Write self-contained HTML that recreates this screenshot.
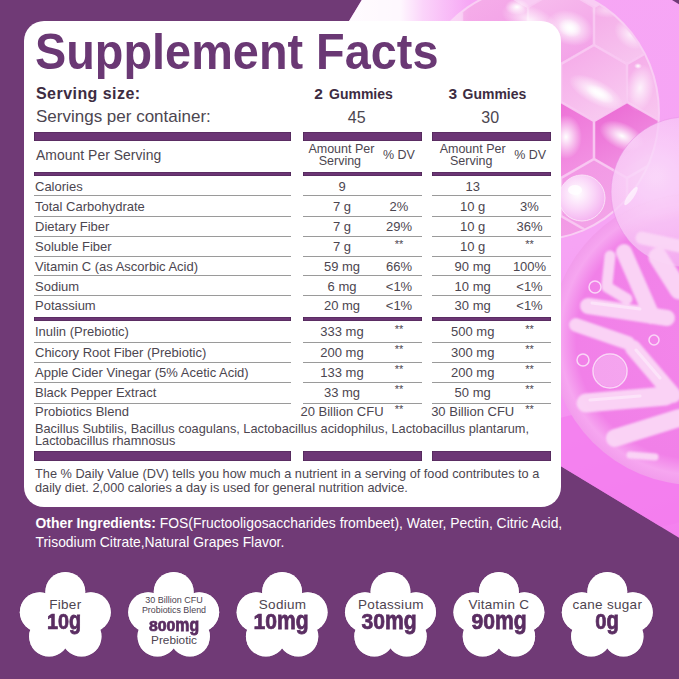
<!DOCTYPE html>
<html><head><meta charset="utf-8"><style>
html,body{margin:0;padding:0;}
body{width:679px;height:679px;position:relative;overflow:hidden;background:#703a76;font-family:"Liberation Sans",sans-serif;}
.t{position:absolute;white-space:nowrap;line-height:1;}
.r{position:absolute;}
.bg{position:absolute;left:0;top:0;}
.lc{display:inline-block;transform:scaleY(1.15);transform-origin:50% 80%;}
</style></head><body>
<svg class="bg" width="679" height="679" viewBox="0 0 679 679">
<defs>
 <clipPath id="pk"><polygon points="444.9,-137.4 208.7,253.1 1064.3,770.8 1300.5,380.3"/></clipPath>
 <clipPath id="hexc"><ellipse cx="536" cy="113" rx="122" ry="126"/></clipPath>
 <linearGradient id="hg0" x1="0" y1="0" x2="0.5" y2="1"><stop offset="0" stop-color="#f6b0ea"/><stop offset="1" stop-color="#f29ee6"/></linearGradient><linearGradient id="hg1" x1="0" y1="0" x2="0.5" y2="1"><stop offset="0" stop-color="#f8c0ee"/><stop offset="1" stop-color="#f3a4e8"/></linearGradient><linearGradient id="hg2" x1="0" y1="0" x2="0.5" y2="1"><stop offset="0" stop-color="#f4a6e6"/><stop offset="1" stop-color="#f7c4ef"/></linearGradient><linearGradient id="hg3" x1="0" y1="0" x2="0.5" y2="1"><stop offset="0" stop-color="#f6b0ea"/><stop offset="1" stop-color="#f29ee6"/></linearGradient><linearGradient id="hg4" x1="0" y1="0" x2="0.5" y2="1"><stop offset="0" stop-color="#f5a8e8"/><stop offset="1" stop-color="#f8c8f0"/></linearGradient><linearGradient id="hg5" x1="0" y1="0" x2="0.5" y2="1"><stop offset="0" stop-color="#f5a8e8"/><stop offset="1" stop-color="#f8c8f0"/></linearGradient><linearGradient id="hg6" x1="0" y1="0" x2="0.5" y2="1"><stop offset="0" stop-color="#ec6ad4"/><stop offset="1" stop-color="#f290e2"/></linearGradient><linearGradient id="hg7" x1="0" y1="0" x2="0.5" y2="1"><stop offset="0" stop-color="#ea66d2"/><stop offset="1" stop-color="#f296e4"/></linearGradient><linearGradient id="hg8" x1="0" y1="0" x2="0.5" y2="1"><stop offset="0" stop-color="#ea66d2"/><stop offset="1" stop-color="#f296e4"/></linearGradient><linearGradient id="hg9" x1="0" y1="0" x2="0.5" y2="1"><stop offset="0" stop-color="#f296e4"/><stop offset="1" stop-color="#f3a4e8"/></linearGradient><linearGradient id="hg10" x1="0" y1="0" x2="0.5" y2="1"><stop offset="0" stop-color="#f296e4"/><stop offset="1" stop-color="#f3a4e8"/></linearGradient><linearGradient id="hg11" x1="0" y1="0" x2="0.5" y2="1"><stop offset="0" stop-color="#f296e4"/><stop offset="1" stop-color="#f3a4e8"/></linearGradient><linearGradient id="hg12" x1="0" y1="0" x2="0.5" y2="1"><stop offset="0" stop-color="#f296e4"/><stop offset="1" stop-color="#f3a4e8"/></linearGradient><linearGradient id="hg13" x1="0" y1="0" x2="0.5" y2="1"><stop offset="0" stop-color="#f296e4"/><stop offset="1" stop-color="#f3a4e8"/></linearGradient>
 <radialGradient id="wh" cx="50%" cy="50%" r="50%"><stop offset="0" stop-color="#fff" stop-opacity="1"/><stop offset="1" stop-color="#fff" stop-opacity="0"/></radialGradient>
 <radialGradient id="bub" cx="30%" cy="40%" r="70%"><stop offset="0" stop-color="#fbe0fb"/><stop offset="0.6" stop-color="#f7c4f5"/><stop offset="1" stop-color="#f3a8f0"/></radialGradient>
 <radialGradient id="sbub" cx="40%" cy="40%" r="65%"><stop offset="0" stop-color="#fff"/><stop offset="0.55" stop-color="#fad6f8"/><stop offset="1" stop-color="#f4b0f0"/></radialGradient>
 <radialGradient id="dish" cx="50%" cy="50%" r="50%"><stop offset="0" stop-color="#f386ea"/><stop offset="0.82" stop-color="#f180e8"/><stop offset="0.93" stop-color="#f6a6f0"/><stop offset="1" stop-color="#f29cec"/></radialGradient>
 <filter id="soft" x="-20%" y="-20%" width="140%" height="140%"><feGaussianBlur stdDeviation="0.9"/></filter>
 <linearGradient id="wstrip" x1="0" y1="0" x2="1" y2="0"><stop offset="0" stop-color="#fff" stop-opacity="1"/><stop offset="0.5" stop-color="#fff" stop-opacity="0.92"/><stop offset="0.62" stop-color="#fff" stop-opacity="0.5"/><stop offset="0.85" stop-color="#fff" stop-opacity="0"/></linearGradient>
 <linearGradient id="base" x1="0" y1="0" x2="0.3" y2="1"><stop offset="0" stop-color="#f7a9f6"/><stop offset="0.6" stop-color="#f6a4f4"/><stop offset="1" stop-color="#f47aee"/></linearGradient>
</defs>
<rect width="679" height="679" fill="#703a76"/>
<g clip-path="url(#pk)">
 <rect x="200" y="-200" width="700" height="900" fill="url(#base)"/>
 <ellipse cx="620" cy="470" rx="120" ry="60" fill="#f47cee" opacity="0.7"/>
 <ellipse cx="536" cy="113" rx="124" ry="128" fill="#f9cdf4"/>
 <g clip-path="url(#hexc)"><polygon points="495.0,-11.5 527.5,7.3 527.5,44.8 495.0,63.5 462.5,44.8 462.5,7.2" fill="url(#hg0)" stroke="#f8c8f2" stroke-width="1.6" stroke-opacity="0.9"/><polygon points="561.0,-11.5 593.5,7.3 593.5,44.8 561.0,63.5 528.5,44.8 528.5,7.2" fill="url(#hg1)" stroke="#f8c8f2" stroke-width="1.6" stroke-opacity="0.9"/><polygon points="627.0,-11.5 659.5,7.3 659.5,44.8 627.0,63.5 594.5,44.8 594.5,7.2" fill="url(#hg2)" stroke="#f8c8f2" stroke-width="1.6" stroke-opacity="0.9"/><polygon points="528.0,45.5 560.5,64.2 560.5,101.8 528.0,120.5 495.5,101.8 495.5,64.2" fill="url(#hg3)" stroke="#f8c8f2" stroke-width="1.6" stroke-opacity="0.9"/><polygon points="594.0,45.5 626.5,64.2 626.5,101.8 594.0,120.5 561.5,101.8 561.5,64.2" fill="url(#hg4)" stroke="#f8c8f2" stroke-width="1.6" stroke-opacity="0.9"/><polygon points="660.0,45.5 692.5,64.2 692.5,101.8 660.0,120.5 627.5,101.8 627.5,64.2" fill="url(#hg5)" stroke="#f8c8f2" stroke-width="1.6" stroke-opacity="0.9"/><polygon points="561.0,102.5 593.5,121.2 593.5,158.8 561.0,177.5 528.5,158.8 528.5,121.2" fill="url(#hg6)" stroke="#f8c8f2" stroke-width="1.6" stroke-opacity="0.9"/><polygon points="627.0,102.5 659.5,121.2 659.5,158.8 627.0,177.5 594.5,158.8 594.5,121.2" fill="url(#hg7)" stroke="#f8c8f2" stroke-width="1.6" stroke-opacity="0.9"/><polygon points="693.0,102.5 725.5,121.2 725.5,158.8 693.0,177.5 660.5,158.8 660.5,121.2" fill="url(#hg8)" stroke="#f8c8f2" stroke-width="1.6" stroke-opacity="0.9"/><polygon points="528.0,159.5 560.5,178.2 560.5,215.8 528.0,234.5 495.5,215.8 495.5,178.2" fill="url(#hg9)" stroke="#f8c8f2" stroke-width="1.6" stroke-opacity="0.9"/><polygon points="594.0,159.5 626.5,178.2 626.5,215.8 594.0,234.5 561.5,215.8 561.5,178.2" fill="url(#hg10)" stroke="#f8c8f2" stroke-width="1.6" stroke-opacity="0.9"/><polygon points="660.0,159.5 692.5,178.2 692.5,215.8 660.0,234.5 627.5,215.8 627.5,178.2" fill="url(#hg11)" stroke="#f8c8f2" stroke-width="1.6" stroke-opacity="0.9"/><polygon points="561.0,216.5 593.5,235.2 593.5,272.8 561.0,291.5 528.5,272.8 528.5,235.2" fill="url(#hg12)" stroke="#f8c8f2" stroke-width="1.6" stroke-opacity="0.9"/><polygon points="627.0,216.5 659.5,235.2 659.5,272.8 627.0,291.5 594.5,272.8 594.5,235.2" fill="url(#hg13)" stroke="#f8c8f2" stroke-width="1.6" stroke-opacity="0.9"/><ellipse cx="570" cy="28" rx="24" ry="17" fill="url(#wh)" opacity="1.0" transform="rotate(20 570 28)"/><ellipse cx="570" cy="28" rx="12" ry="9" fill="url(#wh)" opacity="1.0" transform="rotate(20 570 28)"/><ellipse cx="596" cy="92" rx="30" ry="12" fill="url(#wh)" opacity="1.0" transform="rotate(28 596 92)"/><ellipse cx="600" cy="94" rx="16" ry="7" fill="url(#wh)" opacity="1.0" transform="rotate(28 600 94)"/><ellipse cx="640" cy="88" rx="14" ry="24" fill="url(#wh)" opacity="0.8" transform="rotate(10 640 88)"/><ellipse cx="566" cy="137" rx="16" ry="22" fill="url(#wh)" opacity="1.0" transform="rotate(0 566 137)"/><ellipse cx="622" cy="136" rx="24" ry="13" fill="url(#wh)" opacity="1.0" transform="rotate(25 622 136)"/><ellipse cx="630" cy="35" rx="18" ry="12" fill="url(#wh)" opacity="0.7" transform="rotate(40 630 35)"/><ellipse cx="530" cy="20" rx="30" ry="14" fill="url(#wh)" opacity="0.8" transform="rotate(20 530 20)"/><ellipse cx="608" cy="10" rx="18" ry="8" fill="url(#wh)" opacity="0.5" transform="rotate(0 608 10)"/><ellipse cx="638" cy="66" rx="4" ry="3" fill="url(#wh)" opacity="1.0" transform="rotate(0 638 66)"/>
 </g>
 <rect x="300" y="-10" width="200" height="40" fill="url(#wstrip)"/>
 <ellipse cx="517" cy="7" rx="12" ry="8" fill="url(#wh)"/>
 <circle cx="696" cy="339" r="146" fill="url(#dish)"/>
 <circle cx="686" cy="192" r="75" fill="url(#bub)" opacity="0.85" stroke="#e890e4" stroke-width="1" stroke-opacity="0.6"/>
 <ellipse cx="631" cy="196" rx="3" ry="11" fill="#fff" opacity="0.6" transform="rotate(35 631 196)"/>
 <g stroke="#fad6f6" stroke-linecap="round" fill="none" opacity="0.95" filter="url(#soft)">
  <line x1="588" y1="306" x2="667" y2="318" stroke-width="16.0"/>
  <line x1="576" y1="325" x2="628" y2="343" stroke-width="14.0"/>
  <line x1="610" y1="256" x2="607" y2="285" stroke-width="11.0"/>
  <line x1="607" y1="287" x2="627" y2="299" stroke-width="11.0"/>
  <line x1="624" y1="252" x2="652" y2="316" stroke-width="16.0"/>
  <line x1="633" y1="348" x2="673" y2="395" stroke-width="16.0"/>
  <line x1="586" y1="403" x2="666" y2="396" stroke-width="19.0"/>
  <line x1="615" y1="438" x2="679" y2="418" stroke-width="18.0"/>
  <line x1="642" y1="238" x2="679" y2="246" stroke-width="13.0"/>
  <line x1="658" y1="257" x2="679" y2="290" stroke-width="19.0"/>
  <line x1="630" y1="455" x2="655" y2="457" stroke-width="7.0"/>
 </g>
 <g stroke="#fde8fb" stroke-linecap="round" fill="none" opacity="0.8">
  <line x1="592" y1="303" x2="640" y2="309" stroke-width="3"/>
  <line x1="590" y1="400" x2="640" y2="396" stroke-width="3"/>
  <line x1="636" y1="350" x2="660" y2="378" stroke-width="3"/>
 </g>
 <g fill="none" stroke="#fbe0f9" stroke-width="1.5" opacity="0.9">
  <circle cx="610" cy="371" r="17"/><circle cx="583" cy="360" r="6"/><circle cx="654" cy="340" r="5"/><circle cx="595" cy="287" r="6"/>
 </g>
 <circle cx="610" cy="371" r="16" fill="#fbd8f8" opacity="0.4"/>
 <circle cx="582" cy="198" r="23" fill="url(#sbub)" stroke="#fbe2f8" stroke-width="1"/>
 <ellipse cx="575" cy="190" rx="7" ry="5" fill="#fff" opacity="0.8"/>
</g>
</svg>
<div class="r" style="left:24px;top:21px;width:537px;height:485.5px;background:#fff;border-radius:20px;"></div>
<div class="t" style="left:35px;top:27.17px;font-size:50px;font-weight:bold;color:#6a3874;transform:scaleX(0.937);transform-origin:left top;">Supplement Facts</div>
<div class="t" style="left:36px;top:86.06px;font-size:16px;font-weight:bold;color:#3d2c42;letter-spacing:0.45px;">Serving size:</div>
<div class="t" style="left:314.3px;top:86.28px;font-size:15.5px;font-weight:bold;color:#3d2c42;">2</div>
<div class="t" style="left:329px;top:86.75px;font-size:14px;font-weight:bold;color:#3d2c42;">Gummies</div>
<div class="t" style="left:448.4px;top:86.28px;font-size:15.5px;font-weight:bold;color:#3d2c42;">3</div>
<div class="t" style="left:462.5px;top:86.75px;font-size:14px;font-weight:bold;color:#3d2c42;">Gummies</div>
<div class="t" style="left:36px;top:107.61px;font-size:17px;color:#4c4650;">Servings per container:</div>
<div class="t" style="left:206.7px;width:300px;text-align:center;top:110.26px;font-size:16px;color:#4c4650;">45</div>
<div class="t" style="left:340.2px;width:300px;text-align:center;top:110.26px;font-size:16px;color:#4c4650;">30</div>
<div class="r" style="left:34px;top:131.5px;width:256.5px;height:9.5px;background:#6c3675;box-shadow:inset 0 0 0 0.6px #4a2552;"></div>
<div class="r" style="left:302.8px;top:131.5px;width:119.0px;height:9.5px;background:#6c3675;box-shadow:inset 0 0 0 0.6px #4a2552;"></div>
<div class="r" style="left:432.4px;top:131.5px;width:118.60000000000002px;height:9.5px;background:#6c3675;box-shadow:inset 0 0 0 0.6px #4a2552;"></div>
<div class="t" style="left:36px;top:148.53px;font-size:13.9px;color:#4c4650;letter-spacing:0.05px;">Amount Per Serving</div>
<div class="t" style="left:191.39999999999998px;width:300px;text-align:center;top:143.12px;font-size:12.5px;color:#4c4650;">Amount Per</div>
<div class="t" style="left:189.89999999999998px;width:300px;text-align:center;top:154.92px;font-size:12.5px;color:#4c4650;">Serving</div>
<div class="t" style="left:248.89999999999998px;width:300px;text-align:center;top:149.02px;font-size:12.5px;color:#4c4650;">% DV</div>
<div class="t" style="left:322.7px;width:300px;text-align:center;top:143.12px;font-size:12.5px;color:#4c4650;">Amount Per</div>
<div class="t" style="left:321.2px;width:300px;text-align:center;top:154.92px;font-size:12.5px;color:#4c4650;">Serving</div>
<div class="t" style="left:380.20000000000005px;width:300px;text-align:center;top:149.02px;font-size:12.5px;color:#4c4650;">% DV</div>
<div class="r" style="left:34px;top:171.5px;width:256.5px;height:4.300000000000011px;background:#6c3675;box-shadow:inset 0 0 0 0.6px #4a2552;"></div>
<div class="r" style="left:302.8px;top:171.5px;width:119.0px;height:4.300000000000011px;background:#6c3675;box-shadow:inset 0 0 0 0.6px #4a2552;"></div>
<div class="r" style="left:432.4px;top:171.5px;width:118.60000000000002px;height:4.300000000000011px;background:#6c3675;box-shadow:inset 0 0 0 0.6px #4a2552;"></div>
<div class="t" style="left:35px;top:179.60px;font-size:13px;color:#4c4650;">Calories</div>
<div class="t" style="left:192px;width:300px;text-align:center;top:179.60px;font-size:13px;color:#4c4650;">9</div>
<div class="t" style="left:322.7px;width:300px;text-align:center;top:179.60px;font-size:13px;color:#4c4650;">13</div>
<div class="t" style="left:249px;width:300px;text-align:center;top:179.60px;font-size:13px;color:#4c4650;"></div>
<div class="t" style="left:379.5px;width:300px;text-align:center;top:179.60px;font-size:13px;color:#4c4650;"></div>
<div class="t" style="left:35px;top:200.00px;font-size:13px;color:#4c4650;">Total Carbohydrate</div>
<div class="t" style="left:192px;width:300px;text-align:center;top:200.00px;font-size:13px;color:#4c4650;">7 g</div>
<div class="t" style="left:322.7px;width:300px;text-align:center;top:200.00px;font-size:13px;color:#4c4650;">10 g</div>
<div class="t" style="left:249px;width:300px;text-align:center;top:200.00px;font-size:13px;color:#4c4650;">2%</div>
<div class="t" style="left:379.5px;width:300px;text-align:center;top:200.00px;font-size:13px;color:#4c4650;">3%</div>
<div class="t" style="left:35px;top:220.00px;font-size:13px;color:#4c4650;">Dietary Fiber</div>
<div class="t" style="left:192px;width:300px;text-align:center;top:220.00px;font-size:13px;color:#4c4650;">7 g</div>
<div class="t" style="left:322.7px;width:300px;text-align:center;top:220.00px;font-size:13px;color:#4c4650;">10 g</div>
<div class="t" style="left:249px;width:300px;text-align:center;top:220.00px;font-size:13px;color:#4c4650;">29%</div>
<div class="t" style="left:379.5px;width:300px;text-align:center;top:220.00px;font-size:13px;color:#4c4650;">36%</div>
<div class="t" style="left:35px;top:240.00px;font-size:13px;color:#4c4650;">Soluble Fiber</div>
<div class="t" style="left:192px;width:300px;text-align:center;top:240.00px;font-size:13px;color:#4c4650;">7 g</div>
<div class="t" style="left:322.7px;width:300px;text-align:center;top:240.00px;font-size:13px;color:#4c4650;">10 g</div>
<div class="t" style="left:249px;width:300px;text-align:center;top:238.69px;font-size:11px;color:#4c4650;">**</div>
<div class="t" style="left:379.5px;width:300px;text-align:center;top:238.69px;font-size:11px;color:#4c4650;">**</div>
<div class="t" style="left:35px;top:259.50px;font-size:13px;color:#4c4650;">Vitamin C (as Ascorbic Acid)</div>
<div class="t" style="left:192px;width:300px;text-align:center;top:259.50px;font-size:13px;color:#4c4650;">59 mg</div>
<div class="t" style="left:322.7px;width:300px;text-align:center;top:259.50px;font-size:13px;color:#4c4650;">90 mg</div>
<div class="t" style="left:249px;width:300px;text-align:center;top:259.50px;font-size:13px;color:#4c4650;">66%</div>
<div class="t" style="left:379.5px;width:300px;text-align:center;top:259.50px;font-size:13px;color:#4c4650;">100%</div>
<div class="t" style="left:35px;top:279.50px;font-size:13px;color:#4c4650;">Sodium</div>
<div class="t" style="left:192px;width:300px;text-align:center;top:279.50px;font-size:13px;color:#4c4650;">6 mg</div>
<div class="t" style="left:322.7px;width:300px;text-align:center;top:279.50px;font-size:13px;color:#4c4650;">10 mg</div>
<div class="t" style="left:249px;width:300px;text-align:center;top:279.50px;font-size:13px;color:#4c4650;">&lt;1%</div>
<div class="t" style="left:379.5px;width:300px;text-align:center;top:279.50px;font-size:13px;color:#4c4650;">&lt;1%</div>
<div class="t" style="left:35px;top:299.30px;font-size:13px;color:#4c4650;">Potassium</div>
<div class="t" style="left:192px;width:300px;text-align:center;top:299.30px;font-size:13px;color:#4c4650;">20 mg</div>
<div class="t" style="left:322.7px;width:300px;text-align:center;top:299.30px;font-size:13px;color:#4c4650;">30 mg</div>
<div class="t" style="left:249px;width:300px;text-align:center;top:299.30px;font-size:13px;color:#4c4650;">&lt;1%</div>
<div class="t" style="left:379.5px;width:300px;text-align:center;top:299.30px;font-size:13px;color:#4c4650;">&lt;1%</div>
<div class="r" style="left:34px;top:195.3px;width:256.5px;height:1.0px;background:#9a9a9a;"></div>
<div class="r" style="left:302.8px;top:195.3px;width:119.0px;height:1.0px;background:#9a9a9a;"></div>
<div class="r" style="left:432.4px;top:195.3px;width:118.60000000000002px;height:1.0px;background:#9a9a9a;"></div>
<div class="r" style="left:34px;top:216px;width:256.5px;height:1px;background:#9a9a9a;"></div>
<div class="r" style="left:302.8px;top:216px;width:119.0px;height:1px;background:#9a9a9a;"></div>
<div class="r" style="left:432.4px;top:216px;width:118.60000000000002px;height:1px;background:#9a9a9a;"></div>
<div class="r" style="left:34px;top:236.3px;width:256.5px;height:1.0px;background:#9a9a9a;"></div>
<div class="r" style="left:302.8px;top:236.3px;width:119.0px;height:1.0px;background:#9a9a9a;"></div>
<div class="r" style="left:432.4px;top:236.3px;width:118.60000000000002px;height:1.0px;background:#9a9a9a;"></div>
<div class="r" style="left:34px;top:256px;width:256.5px;height:1px;background:#9a9a9a;"></div>
<div class="r" style="left:302.8px;top:256px;width:119.0px;height:1px;background:#9a9a9a;"></div>
<div class="r" style="left:432.4px;top:256px;width:118.60000000000002px;height:1px;background:#9a9a9a;"></div>
<div class="r" style="left:34px;top:275.3px;width:256.5px;height:1.0px;background:#9a9a9a;"></div>
<div class="r" style="left:302.8px;top:275.3px;width:119.0px;height:1.0px;background:#9a9a9a;"></div>
<div class="r" style="left:432.4px;top:275.3px;width:118.60000000000002px;height:1.0px;background:#9a9a9a;"></div>
<div class="r" style="left:34px;top:295.2px;width:256.5px;height:1.0px;background:#9a9a9a;"></div>
<div class="r" style="left:302.8px;top:295.2px;width:119.0px;height:1.0px;background:#9a9a9a;"></div>
<div class="r" style="left:432.4px;top:295.2px;width:118.60000000000002px;height:1.0px;background:#9a9a9a;"></div>
<div class="r" style="left:34px;top:317px;width:256.5px;height:4px;background:#6c3675;box-shadow:inset 0 0 0 0.6px #4a2552;"></div>
<div class="r" style="left:302.8px;top:317px;width:119.0px;height:4px;background:#6c3675;box-shadow:inset 0 0 0 0.6px #4a2552;"></div>
<div class="r" style="left:432.4px;top:317px;width:118.60000000000002px;height:4px;background:#6c3675;box-shadow:inset 0 0 0 0.6px #4a2552;"></div>
<div class="t" style="left:35px;top:325.00px;font-size:13px;color:#4c4650;">Inulin (Prebiotic)</div>
<div class="t" style="left:192px;width:300px;text-align:center;top:325.00px;font-size:13px;color:#4c4650;">333 mg</div>
<div class="t" style="left:322.7px;width:300px;text-align:center;top:325.00px;font-size:13px;color:#4c4650;">500 mg</div>
<div class="t" style="left:249px;width:300px;text-align:center;top:323.69px;font-size:11px;color:#4c4650;">**</div>
<div class="t" style="left:379.5px;width:300px;text-align:center;top:323.69px;font-size:11px;color:#4c4650;">**</div>
<div class="t" style="left:35px;top:345.50px;font-size:13px;color:#4c4650;">Chicory Root Fiber (Prebiotic)</div>
<div class="t" style="left:192px;width:300px;text-align:center;top:345.50px;font-size:13px;color:#4c4650;">200 mg</div>
<div class="t" style="left:322.7px;width:300px;text-align:center;top:345.50px;font-size:13px;color:#4c4650;">300 mg</div>
<div class="t" style="left:249px;width:300px;text-align:center;top:344.19px;font-size:11px;color:#4c4650;">**</div>
<div class="t" style="left:379.5px;width:300px;text-align:center;top:344.19px;font-size:11px;color:#4c4650;">**</div>
<div class="t" style="left:35px;top:365.50px;font-size:13px;color:#4c4650;">Apple Cider Vinegar (5% Acetic Acid)</div>
<div class="t" style="left:192px;width:300px;text-align:center;top:365.50px;font-size:13px;color:#4c4650;">133 mg</div>
<div class="t" style="left:322.7px;width:300px;text-align:center;top:365.50px;font-size:13px;color:#4c4650;">200 mg</div>
<div class="t" style="left:249px;width:300px;text-align:center;top:364.19px;font-size:11px;color:#4c4650;">**</div>
<div class="t" style="left:379.5px;width:300px;text-align:center;top:364.19px;font-size:11px;color:#4c4650;">**</div>
<div class="t" style="left:35px;top:385.80px;font-size:13px;color:#4c4650;">Black Pepper Extract</div>
<div class="t" style="left:192px;width:300px;text-align:center;top:385.80px;font-size:13px;color:#4c4650;">33 mg</div>
<div class="t" style="left:322.7px;width:300px;text-align:center;top:385.80px;font-size:13px;color:#4c4650;">50 mg</div>
<div class="t" style="left:249px;width:300px;text-align:center;top:384.49px;font-size:11px;color:#4c4650;">**</div>
<div class="t" style="left:379.5px;width:300px;text-align:center;top:384.49px;font-size:11px;color:#4c4650;">**</div>
<div class="t" style="left:35px;top:405.00px;font-size:13px;color:#4c4650;">Probiotics Blend</div>
<div class="t" style="left:192px;width:300px;text-align:center;top:405.00px;font-size:13px;color:#4c4650;">20 Billion CFU</div>
<div class="t" style="left:322.7px;width:300px;text-align:center;top:405.00px;font-size:13px;color:#4c4650;">30 Billion CFU</div>
<div class="t" style="left:249px;width:300px;text-align:center;top:403.69px;font-size:11px;color:#4c4650;">**</div>
<div class="t" style="left:379.5px;width:300px;text-align:center;top:403.69px;font-size:11px;color:#4c4650;">**</div>
<div class="r" style="left:34px;top:341.5px;width:256.5px;height:1.0px;background:#9a9a9a;"></div>
<div class="r" style="left:302.8px;top:341.5px;width:119.0px;height:1.0px;background:#9a9a9a;"></div>
<div class="r" style="left:432.4px;top:341.5px;width:118.60000000000002px;height:1.0px;background:#9a9a9a;"></div>
<div class="r" style="left:34px;top:362px;width:256.5px;height:1px;background:#9a9a9a;"></div>
<div class="r" style="left:302.8px;top:362px;width:119.0px;height:1px;background:#9a9a9a;"></div>
<div class="r" style="left:432.4px;top:362px;width:118.60000000000002px;height:1px;background:#9a9a9a;"></div>
<div class="r" style="left:34px;top:382px;width:256.5px;height:1px;background:#9a9a9a;"></div>
<div class="r" style="left:302.8px;top:382px;width:119.0px;height:1px;background:#9a9a9a;"></div>
<div class="r" style="left:432.4px;top:382px;width:118.60000000000002px;height:1px;background:#9a9a9a;"></div>
<div class="r" style="left:34px;top:402.5px;width:256.5px;height:1.0px;background:#9a9a9a;"></div>
<div class="r" style="left:302.8px;top:402.5px;width:119.0px;height:1.0px;background:#9a9a9a;"></div>
<div class="r" style="left:432.4px;top:402.5px;width:118.60000000000002px;height:1.0px;background:#9a9a9a;"></div>
<div class="t" style="left:35px;top:422.51px;font-size:12.75px;color:#4c4650;">Bacillus Subtilis, Bacillus coagulans, Lactobacillus acidophilus, Lactobacillus plantarum,</div>
<div class="t" style="left:35px;top:435.41px;font-size:12.75px;color:#4c4650;">Lactobacillus rhamnosus</div>
<div class="r" style="left:34px;top:451px;width:256.5px;height:9.5px;background:#6c3675;box-shadow:inset 0 0 0 0.6px #4a2552;"></div>
<div class="r" style="left:302.8px;top:451px;width:119.0px;height:9.5px;background:#6c3675;box-shadow:inset 0 0 0 0.6px #4a2552;"></div>
<div class="r" style="left:432.4px;top:451px;width:118.60000000000002px;height:9.5px;background:#6c3675;box-shadow:inset 0 0 0 0.6px #4a2552;"></div>
<div class="t" style="left:35px;top:467.81px;font-size:12.75px;color:#4c4650;">The % Daily Value (DV) tells you how much a nutrient in a serving of food contributes to a</div>
<div class="t" style="left:35px;top:481.61px;font-size:12.75px;color:#4c4650;">daily diet. 2,000 calories a day is used for general nutrition advice.</div>
<div class="t" style="left:35.5px;top:517.23px;font-size:13.9px;color:#fff;"><b>Other Ingredients:</b> FOS(Fructooligosaccharides frombeet), Water, Pectin, Citric Acid,</div>
<div class="t" style="left:35.5px;top:535.53px;font-size:13.9px;color:#fff;">Trisodium Citrate,Natural Grapes Flavor.</div>
<svg class="bg" width="679" height="679"><g fill="#fff" stroke="#5a2a60" stroke-width="0.6" stroke-opacity="0.5"><circle cx="65.30" cy="592" r="20"/><circle cx="39.80" cy="612.2" r="20"/><circle cx="90.80" cy="612.2" r="20"/><circle cx="49.10" cy="636.5" r="20"/><circle cx="81.50" cy="636.5" r="20"/><circle cx="65.3" cy="617" r="24"/><circle cx="173.70" cy="592" r="20"/><circle cx="148.20" cy="612.2" r="20"/><circle cx="199.20" cy="612.2" r="20"/><circle cx="157.50" cy="636.5" r="20"/><circle cx="189.90" cy="636.5" r="20"/><circle cx="173.7" cy="617" r="24"/><circle cx="282.10" cy="592" r="20"/><circle cx="256.60" cy="612.2" r="20"/><circle cx="307.60" cy="612.2" r="20"/><circle cx="265.90" cy="636.5" r="20"/><circle cx="298.30" cy="636.5" r="20"/><circle cx="282.1" cy="617" r="24"/><circle cx="390.50" cy="592" r="20"/><circle cx="365.00" cy="612.2" r="20"/><circle cx="416.00" cy="612.2" r="20"/><circle cx="374.30" cy="636.5" r="20"/><circle cx="406.70" cy="636.5" r="20"/><circle cx="390.5" cy="617" r="24"/><circle cx="498.90" cy="592" r="20"/><circle cx="473.40" cy="612.2" r="20"/><circle cx="524.40" cy="612.2" r="20"/><circle cx="482.70" cy="636.5" r="20"/><circle cx="515.10" cy="636.5" r="20"/><circle cx="498.9" cy="617" r="24"/><circle cx="607.30" cy="592" r="20"/><circle cx="581.80" cy="612.2" r="20"/><circle cx="632.80" cy="612.2" r="20"/><circle cx="591.10" cy="636.5" r="20"/><circle cx="623.50" cy="636.5" r="20"/><circle cx="607.3" cy="617" r="24"/></g><g fill="#fff"><circle cx="65.30" cy="592" r="20"/><circle cx="39.80" cy="612.2" r="20"/><circle cx="90.80" cy="612.2" r="20"/><circle cx="49.10" cy="636.5" r="20"/><circle cx="81.50" cy="636.5" r="20"/><circle cx="65.3" cy="617" r="24"/><circle cx="173.70" cy="592" r="20"/><circle cx="148.20" cy="612.2" r="20"/><circle cx="199.20" cy="612.2" r="20"/><circle cx="157.50" cy="636.5" r="20"/><circle cx="189.90" cy="636.5" r="20"/><circle cx="173.7" cy="617" r="24"/><circle cx="282.10" cy="592" r="20"/><circle cx="256.60" cy="612.2" r="20"/><circle cx="307.60" cy="612.2" r="20"/><circle cx="265.90" cy="636.5" r="20"/><circle cx="298.30" cy="636.5" r="20"/><circle cx="282.1" cy="617" r="24"/><circle cx="390.50" cy="592" r="20"/><circle cx="365.00" cy="612.2" r="20"/><circle cx="416.00" cy="612.2" r="20"/><circle cx="374.30" cy="636.5" r="20"/><circle cx="406.70" cy="636.5" r="20"/><circle cx="390.5" cy="617" r="24"/><circle cx="498.90" cy="592" r="20"/><circle cx="473.40" cy="612.2" r="20"/><circle cx="524.40" cy="612.2" r="20"/><circle cx="482.70" cy="636.5" r="20"/><circle cx="515.10" cy="636.5" r="20"/><circle cx="498.9" cy="617" r="24"/><circle cx="607.30" cy="592" r="20"/><circle cx="581.80" cy="612.2" r="20"/><circle cx="632.80" cy="612.2" r="20"/><circle cx="591.10" cy="636.5" r="20"/><circle cx="623.50" cy="636.5" r="20"/><circle cx="607.3" cy="617" r="24"/></g></svg>
<div class="t" style="left:-84.7px;width:300px;text-align:center;top:598.07px;font-size:13.5px;color:#4d4450;letter-spacing:0.3px;">Fiber</div>
<div class="t" style="left:-86px;width:300px;text-align:center;top:611.08px;font-size:22px;font-weight:bold;color:#5a2d62;transform:scaleX(0.9);transform-origin:center top;-webkit-text-stroke:0.7px #5a2d62;">10<span class="lc">g</span></div>
<div class="t" style="left:24px;width:300px;text-align:center;top:595.98px;font-size:9px;color:#4d4450;">30 Billion CFU</div>
<div class="t" style="left:24px;width:300px;text-align:center;top:606.37px;font-size:8.9px;color:#4d4450;">Probiotics Blend</div>
<div class="t" style="left:24.30000000000001px;width:300px;text-align:center;top:618.18px;font-size:15.5px;font-weight:bold;color:#5a2d62;transform:scaleX(1.02);transform-origin:center top;-webkit-text-stroke:0.7px #5a2d62;">800<span class="lc">mg</span></div>
<div class="t" style="left:24px;width:300px;text-align:center;top:634.61px;font-size:11.8px;color:#4d4450;">Prebiotic</div>
<div class="t" style="left:132.60000000000002px;width:300px;text-align:center;top:598.07px;font-size:13.5px;color:#4d4450;letter-spacing:0.3px;">Sodium</div>
<div class="t" style="left:131px;width:300px;text-align:center;top:611.08px;font-size:22px;font-weight:bold;color:#5a2d62;transform:scaleX(0.96);transform-origin:center top;-webkit-text-stroke:0.7px #5a2d62;">10<span class="lc">mg</span></div>
<div class="t" style="left:240.89999999999998px;width:300px;text-align:center;top:598.07px;font-size:13.5px;color:#4d4450;letter-spacing:0.3px;">Potassium</div>
<div class="t" style="left:239.3px;width:300px;text-align:center;top:611.08px;font-size:22px;font-weight:bold;color:#5a2d62;transform:scaleX(0.96);transform-origin:center top;-webkit-text-stroke:0.7px #5a2d62;">30<span class="lc">mg</span></div>
<div class="t" style="left:348.9px;width:300px;text-align:center;top:598.07px;font-size:13.5px;color:#4d4450;letter-spacing:0.3px;">Vitamin C</div>
<div class="t" style="left:348.9px;width:300px;text-align:center;top:611.08px;font-size:22px;font-weight:bold;color:#5a2d62;transform:scaleX(0.96);transform-origin:center top;-webkit-text-stroke:0.7px #5a2d62;">90<span class="lc">mg</span></div>
<div class="t" style="left:457.29999999999995px;width:300px;text-align:center;top:598.07px;font-size:13.5px;color:#4d4450;letter-spacing:0.3px;">cane sugar</div>
<div class="t" style="left:457.29999999999995px;width:300px;text-align:center;top:611.08px;font-size:22px;font-weight:bold;color:#5a2d62;transform:scaleX(0.92);transform-origin:center top;-webkit-text-stroke:0.7px #5a2d62;">0<span class="lc">g</span></div>
</body></html>
